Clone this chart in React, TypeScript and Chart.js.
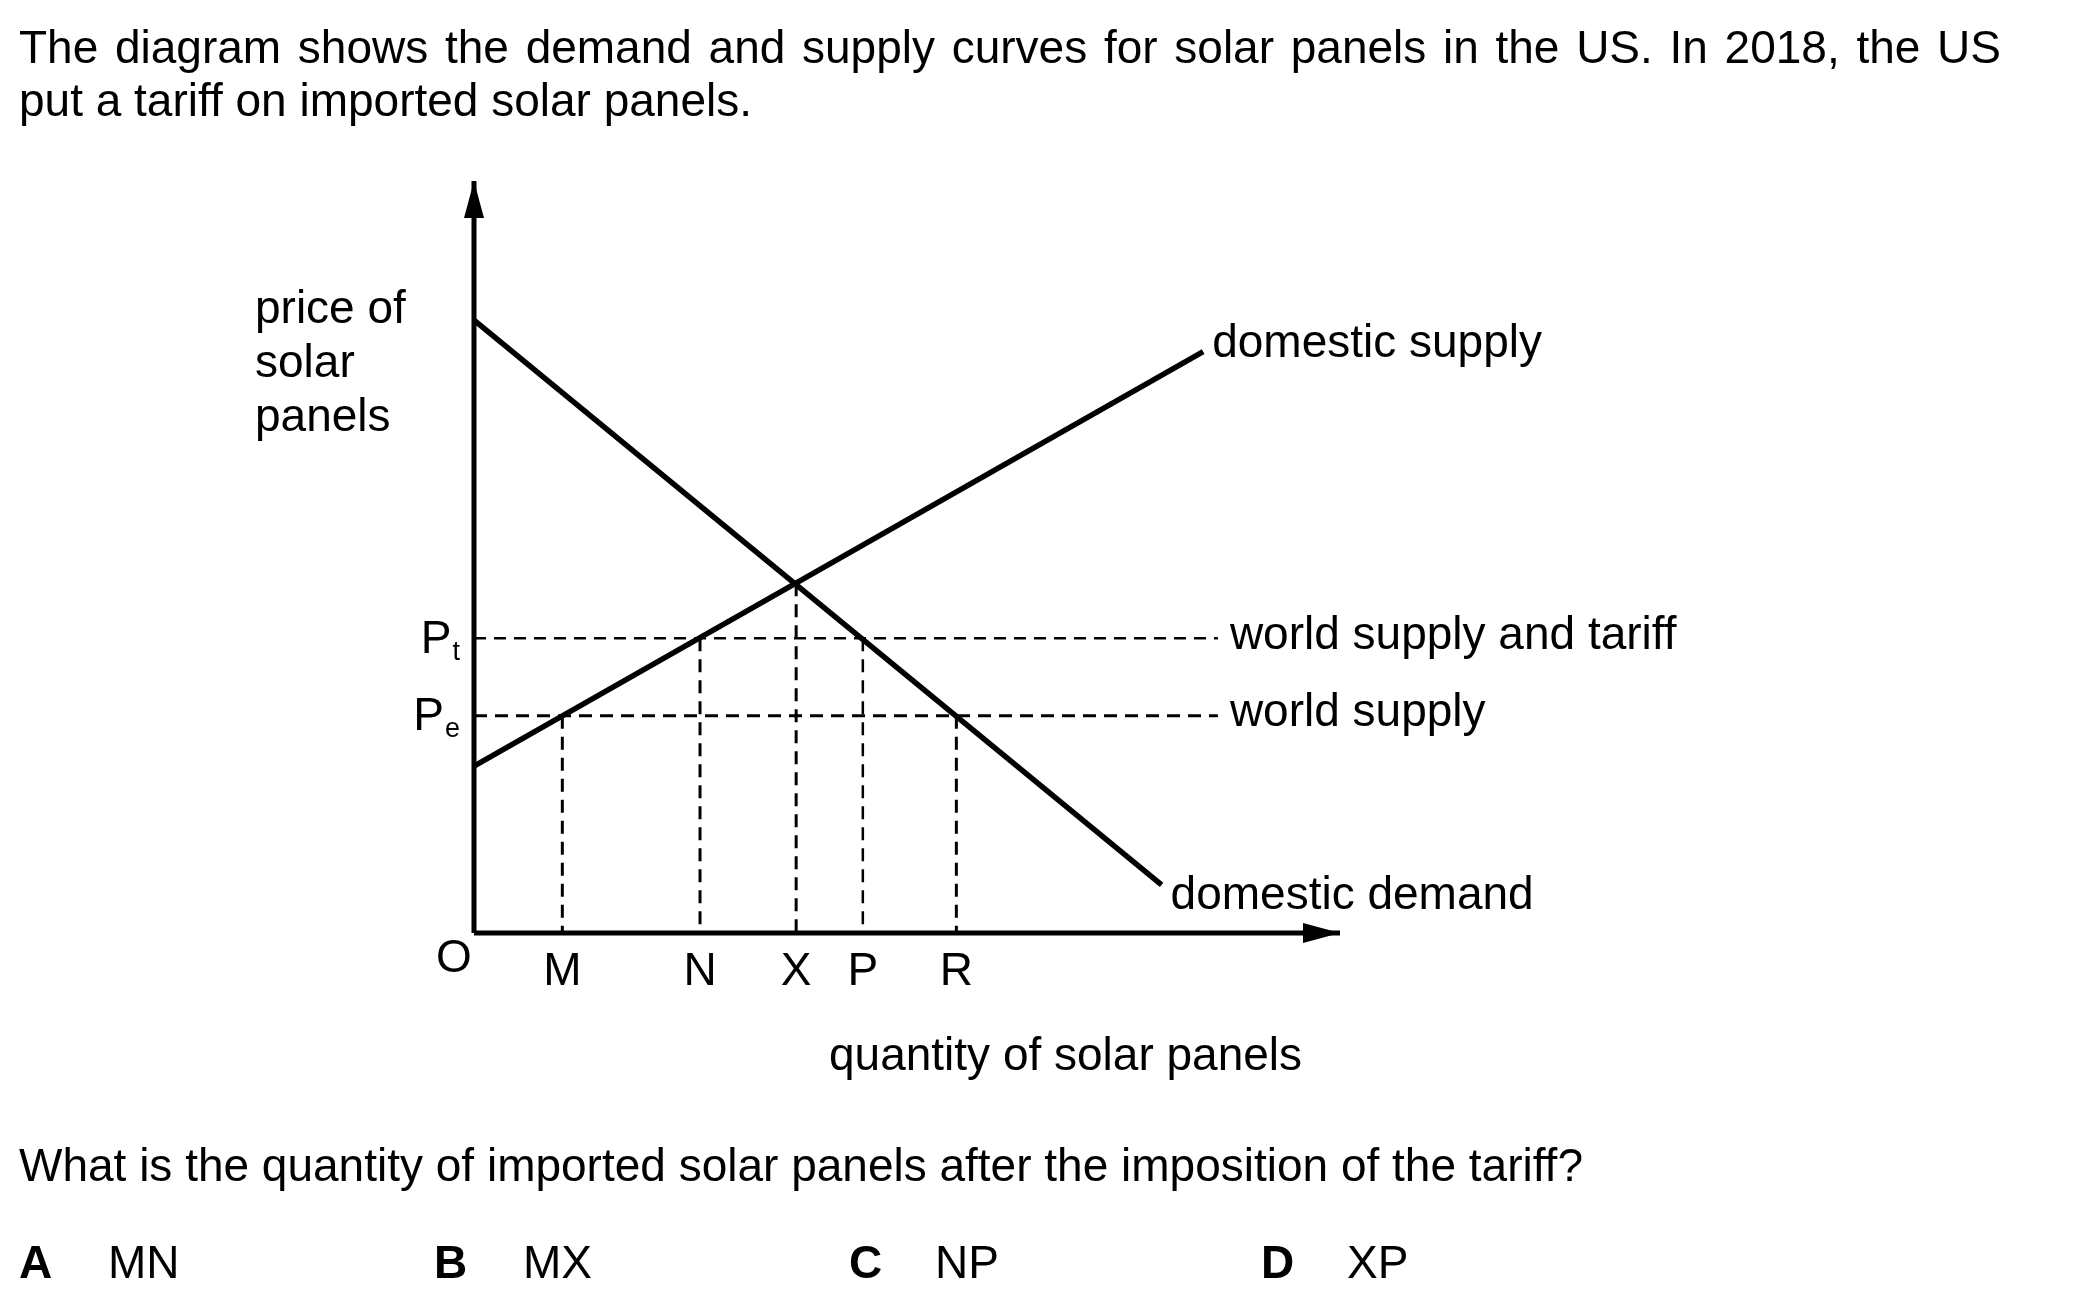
import React, { useEffect, useRef } from "react";
import { Chart, registerables } from "chart.js";

Chart.register(...registerables);

const FONT = '"Liberation Sans", Arial, Helvetica, sans-serif';

// ---- Data (quantity 0–100 on the horizontal axis, price 0–100 on the vertical axis) ----
const demandQuantity = [0, 79.4];
const demandPrice = [81.5, 6.4];
const supplyQuantity = [0, 84.2];
const supplyPrice = [22.2, 77.3];
const priceLevels = [39.2, 28.9]; // Pt, Pe
const priceSubscripts = ["t", "e"];
const priceLineEnd = 85.9;
const priceLineLabels = ["world supply and tariff", "world supply"];
const quantityLabels = ["M", "N", "X", "P", "R"];
const quantityValues = [10.2, 26.1, 37.2, 44.9, 55.7];
const dropLineTops = [28.9, 39.2, 46.5, 39.2, 28.9];
const curveLabels = ["domestic demand", "domestic supply"];
const yAxisTitle = ["price of", "solar", "panels"];
const xAxisTitle = "quantity of solar panels";

const titleLine1 =
  "The diagram shows the demand and supply curves for solar panels in the US. In 2018, the US";
const titleLine2 = "put a tariff on imported solar panels.";
const question =
  "What is the quantity of imported solar panels after the imposition of the tariff?";
const optionLetters = ["A", "B", "C", "D"];
const optionValues = ["MN", "MX", "NP", "XP"];

const W = 2099;
const H = 1303;

const pts = (xs: number[], ys: number[]) => xs.map((x, i) => ({ x, y: ys[i] }));

const labelsPlugin = {
  id: "econLabels",
  afterDatasetsDraw(chart: any) {
    const { ctx } = chart;
    const xs = chart.scales.x;
    const ys = chart.scales.y;
    const x0 = xs.getPixelForValue(0);
    const y0 = ys.getPixelForValue(0);
    const xTip = xs.getPixelForValue(100);
    const yTip = ys.getPixelForValue(100);
    ctx.save();
    ctx.fillStyle = "#000";
    // arrowheads
    ctx.beginPath();
    ctx.moveTo(x0, yTip);
    ctx.lineTo(x0 - 10, yTip + 37);
    ctx.lineTo(x0 + 10, yTip + 37);
    ctx.closePath();
    ctx.fill();
    ctx.beginPath();
    ctx.moveTo(xTip, y0);
    ctx.lineTo(xTip - 37, y0 - 10);
    ctx.lineTo(xTip - 37, y0 + 10);
    ctx.closePath();
    ctx.fill();

    const big = `46px ${FONT}`;
    const small = `27px ${FONT}`;
    ctx.font = big;
    ctx.textBaseline = "alphabetic";

    // y axis title
    ctx.textAlign = "left";
    yAxisTitle.forEach((t, i) => ctx.fillText(t, x0 - 219, yTip + 142 + i * 54));

    // x axis title
    ctx.fillText(xAxisTitle, x0 + 355, y0 + 137);

    // curve labels
    ctx.fillText(
      curveLabels[0],
      xs.getPixelForValue(demandQuantity[1]) + 9,
      ys.getPixelForValue(demandPrice[1]) + 24
    );
    ctx.fillText(
      curveLabels[1],
      xs.getPixelForValue(supplyQuantity[1]) + 9,
      ys.getPixelForValue(supplyPrice[1]) + 5
    );

    // world supply labels
    priceLevels.forEach((p, i) => {
      ctx.fillText(
        priceLineLabels[i],
        xs.getPixelForValue(priceLineEnd) + 12,
        ys.getPixelForValue(p) + 10.5
      );
    });

    // origin
    ctx.textAlign = "center";
    ctx.fillText("O", x0 - 20, y0 + 39);

    // quantity letters
    quantityLabels.forEach((l, i) => {
      ctx.fillText(l, xs.getPixelForValue(quantityValues[i]), y0 + 52);
    });

    // price labels P_t, P_e
    priceLevels.forEach((p, i) => {
      const py = ys.getPixelForValue(p);
      const right = x0 - 14;
      ctx.font = small;
      ctx.textAlign = "right";
      const subW = ctx.measureText(priceSubscripts[i]).width;
      ctx.fillText(priceSubscripts[i], right, py + 21.5);
      ctx.font = big;
      ctx.fillText("P", right - subW - 1, py + 14.5);
    });
    ctx.restore();
  },
};

export default function App() {
  const canvasRef = useRef<HTMLCanvasElement | null>(null);

  useEffect(() => {
    if (!canvasRef.current) return;
    const line = (
      data: { x: number; y: number }[],
      width: number,
      dash: number[] = []
    ) => ({
      data,
      showLine: true,
      borderColor: "#000",
      backgroundColor: "#000",
      borderWidth: width,
      borderDash: dash,
      pointRadius: 0,
      pointHoverRadius: 0,
      fill: false,
      clip: false,
      tension: 0,
    });

    const datasets: any[] = [
      line(pts([0, 0], [0, 100]), 5),
      line(pts([0, 100], [0, 0]), 5),
      line(pts(demandQuantity, demandPrice), 5.5),
      line(pts(supplyQuantity, supplyPrice), 5.5),
      line(pts([0, priceLineEnd], [priceLevels[0], priceLevels[0]]), 2.5, [12, 8]),
      line(pts([0, priceLineEnd], [priceLevels[1], priceLevels[1]]), 3, [13, 8]),
      ...quantityValues.map((q, i) =>
        line(pts([q, q], [dropLineTops[i], 0]), i === 3 ? 2.5 : 3, [13, 8])
      ),
    ];

    const chart = new Chart(canvasRef.current, {
      type: "scatter",
      data: { datasets },
      options: {
        animation: false,
        responsive: false,
        devicePixelRatio: 1,
        events: [],
        layout: { padding: { left: 474, right: W - 1340, top: 181, bottom: H - 933 } },
        scales: {
          x: { type: "linear", min: 0, max: 100, display: false },
          y: { type: "linear", min: 0, max: 100, display: false },
        },
        plugins: {
          legend: { display: false },
          tooltip: { enabled: false },
          title: { display: false },
        },
      },
      plugins: [labelsPlugin],
    });
    return () => chart.destroy();
  }, []);

  const textStyle: React.CSSProperties = {
    position: "absolute",
    fontFamily: FONT,
    fontSize: "46px",
    lineHeight: "53px",
    color: "#000",
    margin: 0,
  };

  return (
    <div
      style={{
        position: "absolute",
        left: 0,
        top: 0,
        width: W,
        height: H,
        overflow: "hidden",
        background: "#fff",
      }}
    >
      <canvas
        ref={canvasRef}
        width={W}
        height={H}
        style={{ position: "absolute", left: 0, top: 0, width: W, height: H }}
      />
      <div
        style={{
          ...textStyle,
          left: 19,
          top: 20.5,
          width: 1982,
          textAlign: "justify",
          textAlignLast: "justify",
        }}
      >
        {titleLine1}
      </div>
      <div style={{ ...textStyle, left: 19, top: 73.5, whiteSpace: "nowrap" }}>{titleLine2}</div>
      <div style={{ ...textStyle, left: 19, top: 1138.5, whiteSpace: "nowrap" }}>{question}</div>
      {optionLetters.map((l, i) => (
        <React.Fragment key={l}>
          <div
            style={{
              ...textStyle,
              left: [19, 434, 849, 1261][i],
              top: 1235.5,
              fontWeight: "bold",
            }}
          >
            {l}
          </div>
          <div style={{ ...textStyle, left: [108, 523, 935, 1347][i], top: 1235.5 }}>
            {optionValues[i]}
          </div>
        </React.Fragment>
      ))}
    </div>
  );
}
